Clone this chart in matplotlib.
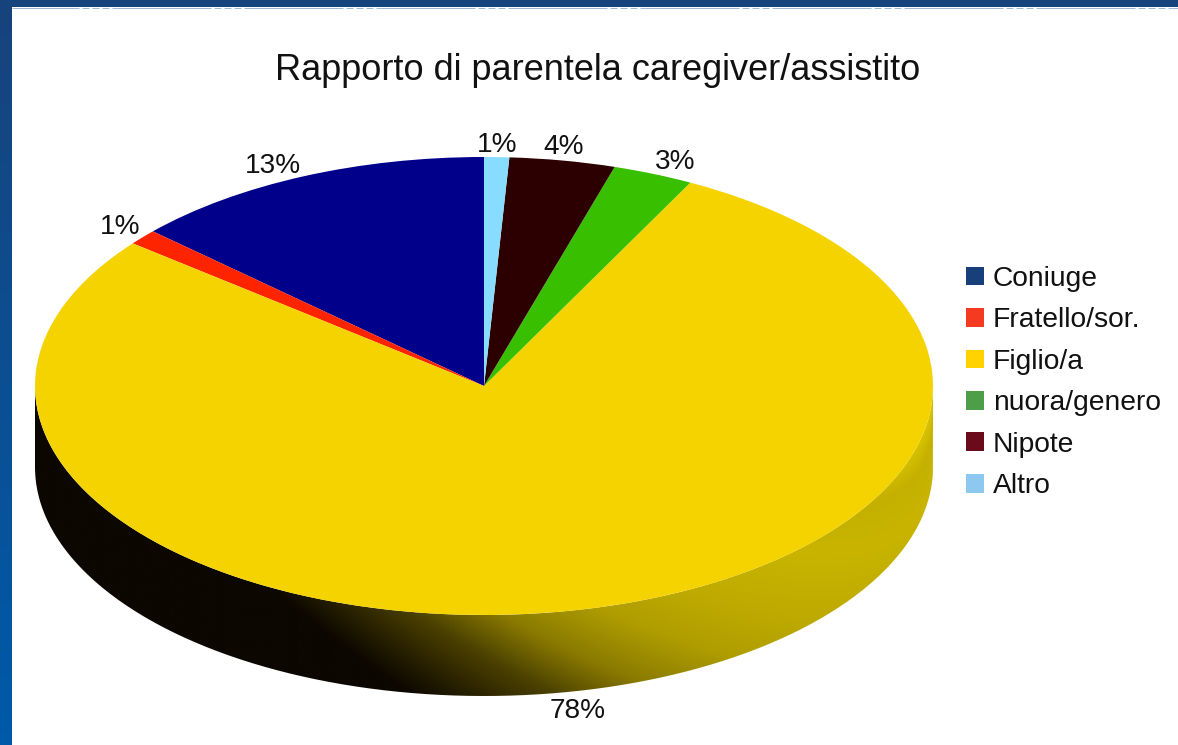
import numpy as np
import matplotlib
matplotlib.use('Agg')
import matplotlib.pyplot as plt
from matplotlib.colors import LinearSegmentedColormap
from matplotlib.patches import Patch, PathPatch
from matplotlib.path import Path

plt.rcParams['font.family'] = ['Liberation Sans', 'DejaVu Sans']

title = 'Rapporto di parentela caregiver/assistito'
categories = ['Coniuge', 'Fratello/sor.', 'Figlio/a', 'nuora/genero', 'Nipote', 'Altro']
values = [13.2, 1.1, 78.1, 2.9, 3.8, 0.9]
slice_colors = ['#00008b', '#ff2400', '#f5d300', '#38c000', '#2d0000', '#87dcff']
legend_colors = ['#17407a', '#f43a20', '#ffd200', '#4c9f48', '#6a0a1a', '#8cc8f0']
label_pos = [(273, 166), (120, 227), (578, 711), (675, 162), (564, 147), (497, 145)]

W, H = 1178, 745
CX, CY, RX, RY, DEPTH = 484, 386, 449, 229, 81

fig = plt.figure(figsize=(W / 100, H / 100), dpi=100, facecolor='white')

# page background, coordinates in pixels
bg = fig.add_axes([0, 0, 1, 1])
bg.axis('off')
frame = LinearSegmentedColormap.from_list('frame', ['#17437c', '#005aa9'])
bg.imshow(np.linspace(0, 1, 64).reshape(-1, 1), extent=(0, 12, H, 0), cmap=frame, aspect='auto', zorder=1)
bg.fill_between([0, W], 0, 7, color='#17437c', lw=0, zorder=1)
bg.plot([12, W], [7.5, 7.5], color='#9db9dc', lw=0.72, zorder=2,
        linestyle=(24, (91, 3, 7, 3, 7, 3, 7, 3, 8, 0.01)))
bg.set_xlim(0, W)
bg.set_ylim(H, 0)

# pie axes: one unit is the ellipse radius
ax = fig.add_axes([(CX - RX) / W, 1 - (CY + RY + DEPTH) / H, 2 * RX / W, (2 * RY + DEPTH) / H])
ax.patch.set_alpha(0)
ax.pie(values, colors=slice_colors, startangle=90, radius=1, wedgeprops={'linewidth': 0, 'zorder': 3})
d = DEPTH / RY
ax.set_aspect('auto')

# side wall below the front of the pie
t = np.linspace(np.pi, 2 * np.pi, 300)
xs = np.cos(t)
ys = np.sin(t)
wall = np.concatenate([np.column_stack([xs, ys]), np.column_stack([xs[::-1], ys[::-1] - d])])
wall_patch = PathPatch(Path(wall), fc='none', ec='none', transform=ax.transData)
ax.add_patch(wall_patch)

shade = LinearSegmentedColormap.from_list('shade', [
    (0.00, '#0c0700'), (0.26, '#0c0700'), (0.34, '#2a2200'), (0.42, '#4a4000'),
    (0.52, '#8a7a00'), (0.63, '#b09e00'), (0.74, '#c0ac00'), (0.85, '#c8b400'),
    (0.93, '#c4b000'), (1.00, '#dcc800')])
gx = np.linspace(-1, 1, 900)
gy = np.linspace(-1 - d, 0, 300)
xx, yy = np.meshgrid(gx, gy)
top_edge = -np.sqrt(np.clip(1 - xx ** 2, 0, 1))
u = (xx + 1) / 2 + 0.85 * (yy - top_edge) * RY / RX
img = ax.imshow(u, extent=(-1, 1, -1 - d, 0), origin='lower', cmap=shade, vmin=0, vmax=1,
                aspect='auto', zorder=2)
img.set_clip_path(wall_patch)
ax.set_xlim(-1, 1)
ax.set_ylim(-1 - d, 1)
ax.axis('off')

fig.text(598 / W, 1 - 71 / H, title, fontsize=26, ha='center', va='center', color='#111111')

for v, (px, py) in zip(values, label_pos):
    fig.text(px / W, 1 - py / H, f'{v:.0f}%', fontsize=20.2, ha='center', va='center', color='#111111')

handles = [Patch(fc=c, ec='none') for c in legend_colors]
fig.legend(handles, categories, loc='upper left', bbox_to_anchor=(966 / W, 1 - 266 / H),
           frameon=False, fontsize=20.3, borderpad=0, borderaxespad=0,
           handlelength=0.64, handleheight=0.64, handletextpad=0.32, labelspacing=0.547,
           labelcolor='#111111')

fig.savefig('out.png', dpi=100)
